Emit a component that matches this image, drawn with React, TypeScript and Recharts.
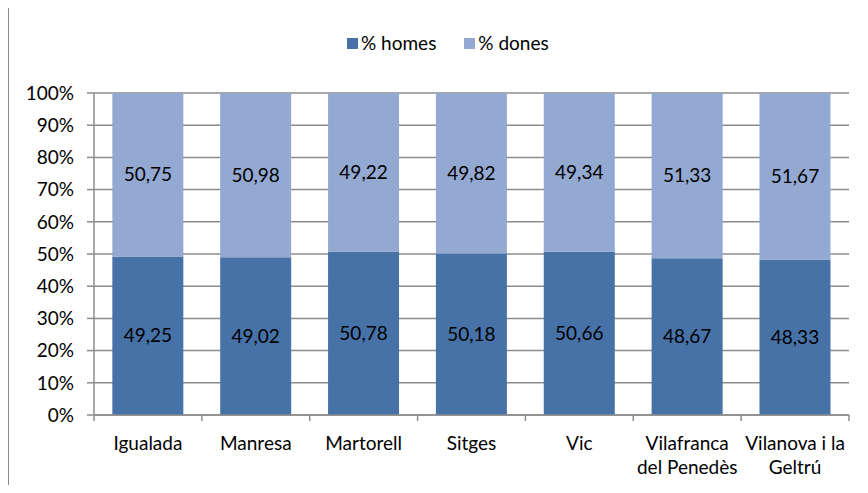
import { BarChart, Bar, XAxis, YAxis, CartesianGrid, LabelList } from 'recharts';

const categories = [
  'Igualada',
  'Manresa',
  'Martorell',
  'Sitges',
  'Vic',
  'Vilafranca\ndel Penedès',
  'Vilanova i la\nGeltrú',
];
const homes = [49.25, 49.02, 50.78, 50.18, 50.66, 48.67, 48.33];
const dones = [50.75, 50.98, 49.22, 49.82, 49.34, 51.33, 51.67];
const yTicks = [0, 10, 20, 30, 40, 50, 60, 70, 80, 90, 100];

const data = categories.map((name, i) => ({ name, homes: homes[i], dones: dones[i] }));

const font = 'Lato, "Noto Sans", sans-serif';
const fontSize = 19;
const gridColor = '#8c8c8c';
const homesColor = '#4672a8';
const donesColor = '#94a9d1';
const labelGap = 22;

const fmt = (v: any) => Number(v).toFixed(2).replace('.', ',');

// category label plus tick marks on the band edges
const CategoryTick = (props: any) => {
  const { x, y, payload, index } = props;
  const lines = String(payload.value).split('\n');
  const half = payload.offset || 0;
  const top = y - labelGap;
  return (
    <g>
      <line x1={x - half} x2={x - half} y1={top} y2={top + 6} stroke={gridColor} strokeWidth={1.5} />
      {index === categories.length - 1 && (
        <line x1={x + half} x2={x + half} y1={top} y2={top + 6} stroke={gridColor} strokeWidth={1.5} />
      )}
      <text x={x} y={y} textAnchor="middle" fill="#000" style={{ fontFamily: font, fontSize }}>
        {lines.map((l, i) => (
          <tspan key={i} x={x} dy={i === 0 ? '0.71em' : 24}>
            {l}
          </tspan>
        ))}
      </text>
    </g>
  );
};

export default function App() {
  return (
    <div
      style={{
        position: 'relative',
        margin: -8,
        width: 868,
        height: 493,
        overflow: 'hidden',
        background: '#fff',
        fontFamily: font,
      }}
    >
      <div
        style={{
          position: 'absolute',
          left: 7,
          top: 6,
          width: 900,
          height: 600,
          border: `2px solid ${gridColor}`,
        }}
      />
      <div
        style={{
          position: 'absolute',
          left: 347,
          top: 31,
          display: 'flex',
          alignItems: 'center',
          fontSize,
          color: '#000',
          lineHeight: '24px',
        }}
      >
        <span style={{ width: 11, height: 11, background: homesColor, display: 'inline-block', marginRight: 3 }} />
        <span style={{ marginRight: 28 }}>% homes</span>
        <span style={{ width: 11, height: 11, background: donesColor, display: 'inline-block', marginRight: 3 }} />
        <span>% dones</span>
      </div>
      <div style={{ position: 'absolute', left: 0, top: 0 }}>
        <BarChart
          width={868}
          height={493}
          data={data}
          margin={{ top: 93, right: 19, left: 0, bottom: 0 }}
          barCategoryGap="17%"
        >
          <CartesianGrid vertical={false} stroke={gridColor} strokeWidth={1.5} />
          <XAxis
            dataKey="name"
            height={78}
            interval={0}
            tick={<CategoryTick />}
            tickLine={false}
            tickSize={0}
            tickMargin={labelGap}
            axisLine={{ stroke: gridColor, strokeWidth: 1.5 }}
          />
          <YAxis
            width={94}
            domain={[0, 100]}
            ticks={yTicks}
            interval={0}
            tickFormatter={(v) => `${v}%`}
            tick={{ fill: '#000', fontSize, fontFamily: font }}
            tickSize={7}
            tickMargin={13}
            tickLine={{ stroke: gridColor, strokeWidth: 1.5 }}
            axisLine={{ stroke: gridColor, strokeWidth: 1.5 }}
          />
          <Bar dataKey="homes" stackId="a" fill={homesColor} isAnimationActive={false}>
            <LabelList
              dataKey="homes"
              position="center"
              formatter={fmt}
              fill="#000"
              style={{ fontFamily: font, fontSize }}
            />
          </Bar>
          <Bar dataKey="dones" stackId="a" fill={donesColor} isAnimationActive={false}>
            <LabelList
              dataKey="dones"
              position="center"
              formatter={fmt}
              fill="#000"
              style={{ fontFamily: font, fontSize }}
            />
          </Bar>
        </BarChart>
      </div>
    </div>
  );
}
